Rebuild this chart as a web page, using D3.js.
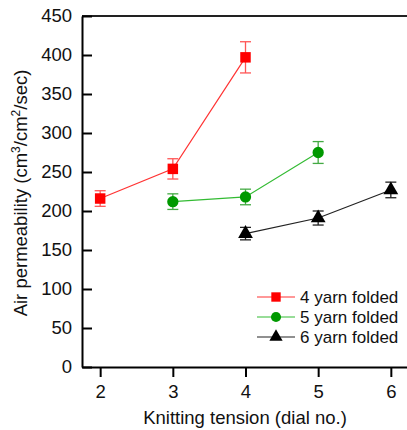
<!DOCTYPE html>
<html>
<head>
<meta charset="utf-8">
<script src="https://cdn.jsdelivr.net/npm/d3@7"></script>
<style>
  body { margin: 0; background: #fff; }
  svg { font-family: "Liberation Sans", Arial, sans-serif; }
</style>
</head>
<body>
<div id="chart"></div>
<script>
// data
const tensions = [2, 3, 4, 5, 6];
const yTicks = [0, 50, 100, 150, 200, 250, 300, 350, 400, 450];
const seriesNames = ["4 yarn folded", "5 yarn folded", "6 yarn folded"];
const yarn4 = [[2, 216, 10], [3, 254, 13], [4, 397, 20]];
const yarn5 = [[3, 212, 10], [4, 218, 10], [5, 275, 14]];
const yarn6 = [[4, 171, 8], [5, 191, 9], [6, 227, 10]];

const width = 407, height = 430;
const svg = d3.select("#chart")
              .append("svg")
              .attr("width", width)
              .attr("height", height);

const x = d3.scaleLinear().domain([1.75, 6.25]).range([82, 409]);
const y = d3.scaleLinear().domain([0, 450]).range([367, 16]);

const series = [
    { name: seriesNames[0], data: yarn4, line: "#ff3333", fill: "#ff0000", err: "#ff5555", shape: d3.symbolSquare, size: 110 },
    { name: seriesNames[1], data: yarn5, line: "#33bb33", fill: "#009900", err: "#44aa44", shape: d3.symbolCircle, size: 100 },
    { name: seriesNames[2], data: yarn6, line: "#222222", fill: "#000000", err: "#222222", shape: d3.symbolTriangle, size: 95 }
];

// frame
svg.append("line").attr("x1", 82).attr("x2", width).attr("y1", 16).attr("y2", 16)
   .attr("stroke", "#222").attr("stroke-width", 2);

// y axis, ticks inside
const yAxis = svg.append("g")
   .attr("transform", "translate(82,0)")
   .call(d3.axisLeft(y).tickValues(yTicks).tickSizeInner(-10).tickSizeOuter(0).tickPadding(10));
yAxis.select(".domain").attr("stroke-width", 2);
yAxis.selectAll(".tick line").attr("stroke-width", 2);
yAxis.selectAll("text").attr("font-size", 18.5).attr("font-family", "Liberation Sans, Arial, sans-serif").attr("fill", "#111");

// x axis, ticks outside
const xAxis = svg.append("g")
   .attr("transform", "translate(0,367)")
   .call(d3.axisBottom(x).tickValues(tensions).tickFormat(d3.format("d")).tickSizeInner(10).tickSizeOuter(0).tickPadding(8));
xAxis.select(".domain").attr("stroke-width", 2);
xAxis.selectAll(".tick line").attr("stroke-width", 2);
xAxis.selectAll("text").attr("font-size", 18.5).attr("font-family", "Liberation Sans, Arial, sans-serif").attr("fill", "#111");

// titles
svg.append("text")
   .attr("x", 245).attr("y", 424)
   .attr("text-anchor", "middle").attr("font-size", 18.5).attr("fill", "#111")
   .text("Knitting tension (dial no.)");

const yt = svg.append("text")
   .attr("transform", "translate(27,193) rotate(-90)")
   .attr("text-anchor", "middle").attr("font-size", 18.5).attr("fill", "#111");
yt.append("tspan").text("Air permeability (cm");
yt.append("tspan").attr("font-size", 12).attr("dy", -7).text("3");
yt.append("tspan").attr("dy", 7).text("/cm");
yt.append("tspan").attr("font-size", 12).attr("dy", -7).text("2");
yt.append("tspan").attr("dy", 7).text("/sec)");

const line = d3.line().x(d => x(d[0])).y(d => y(d[1]));

series.forEach(s => {
    const g = svg.append("g");
    g.append("path").datum(s.data)
     .attr("d", line).attr("fill", "none").attr("stroke", s.line).attr("stroke-width", 1.2);

    const eb = g.selectAll(".err").data(s.data).enter().append("g")
                .attr("stroke", s.err).attr("stroke-width", 1.3);
    eb.append("line").attr("x1", d => x(d[0])).attr("x2", d => x(d[0]))
      .attr("y1", d => y(d[1] - d[2])).attr("y2", d => y(d[1] + d[2]));
    eb.append("line").attr("x1", d => x(d[0]) - 5.5).attr("x2", d => x(d[0]) + 5.5)
      .attr("y1", d => y(d[1] + d[2])).attr("y2", d => y(d[1] + d[2]));
    eb.append("line").attr("x1", d => x(d[0]) - 5.5).attr("x2", d => x(d[0]) + 5.5)
      .attr("y1", d => y(d[1] - d[2])).attr("y2", d => y(d[1] - d[2]));

    g.selectAll(".pt").data(s.data).enter().append("path")
     .attr("transform", d => `translate(${x(d[0])},${y(d[1])})`)
     .attr("d", d3.symbol().type(s.shape).size(s.size))
     .attr("fill", s.fill);
});

// legend
const legend = svg.append("g").attr("transform", "translate(257,297)");
series.forEach((s, i) => {
    const row = legend.append("g").attr("transform", `translate(0,${i * 20})`);
    row.append("line").attr("x1", 0).attr("x2", 38).attr("stroke", s.line).attr("stroke-width", 1.2);
    row.append("path").attr("transform", "translate(19,0)")
       .attr("d", d3.symbol().type(s.shape).size(s.size * 0.8)).attr("fill", s.fill);
    row.append("text").attr("x", 43).attr("y", 6)
       .attr("font-size", 17).attr("fill", "#111").text(s.name);
});
</script>
</body>
</html>
